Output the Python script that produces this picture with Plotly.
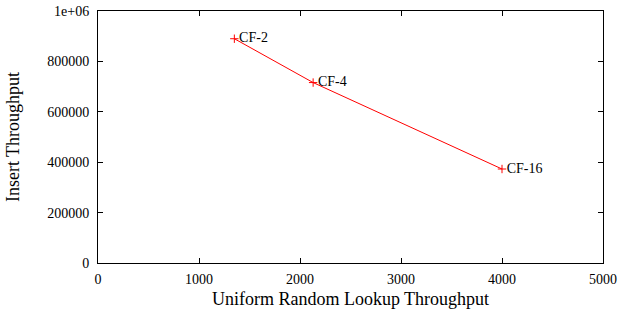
import plotly.graph_objects as go

lookup = [1350, 2130, 4000]
insert = [890000, 716000, 373000]
labels = ["CF-2", "CF-4", "CF-16"]
x_ticks = [0, 1000, 2000, 3000, 4000, 5000]
y_ticks = [0, 200000, 400000, 600000, 800000, 1000000]
y_tick_text = ["0", "200000", "400000", "600000", "800000", "1e+06"]

FONT = "Liberation Serif"

fig = go.Figure()
fig.add_trace(go.Scatter(
    x=lookup, y=insert, text=labels,
    mode="lines+markers+text", textposition="middle right",
    line=dict(color="red", width=1),
    marker=dict(symbol="cross-thin", size=6, line=dict(color="red", width=1), color="red"),
    textfont=dict(family=FONT, size=14, color="black"),
    cliponaxis=False, showlegend=False, hoverinfo="skip",
))
axis_common = dict(showgrid=False, zeroline=False, showline=True, linecolor="black",
                   linewidth=1, mirror="ticks", ticks="inside", ticklen=5,
                   tickcolor="black", automargin=False, ticklabeloverflow="allow",
                   tickfont=dict(family=FONT, size=14, color="black"))
fig.update_xaxes(range=[0, 5000], tickvals=x_ticks, ticklabelstandoff=3, **axis_common,
                 title=dict(text="Uniform Random Lookup Throughput",
                            font=dict(family=FONT, size=18, color="black"), standoff=6))
fig.update_yaxes(range=[0, 1000000], tickvals=y_ticks, ticktext=y_tick_text,
                 ticklabelstandoff=5, **axis_common,
                 title=dict(text="Insert Throughput",
                            font=dict(family=FONT, size=18, color="black"), standoff=22))
fig.update_layout(width=620, height=313, margin=dict(l=98, r=17, t=11, b=50),
                  plot_bgcolor="white", paper_bgcolor="white")
fig.write_html("out.html", config={"displayModeBar": False},
               post_script="document.body.style.margin='0';document.body.style.overflow='hidden';")
